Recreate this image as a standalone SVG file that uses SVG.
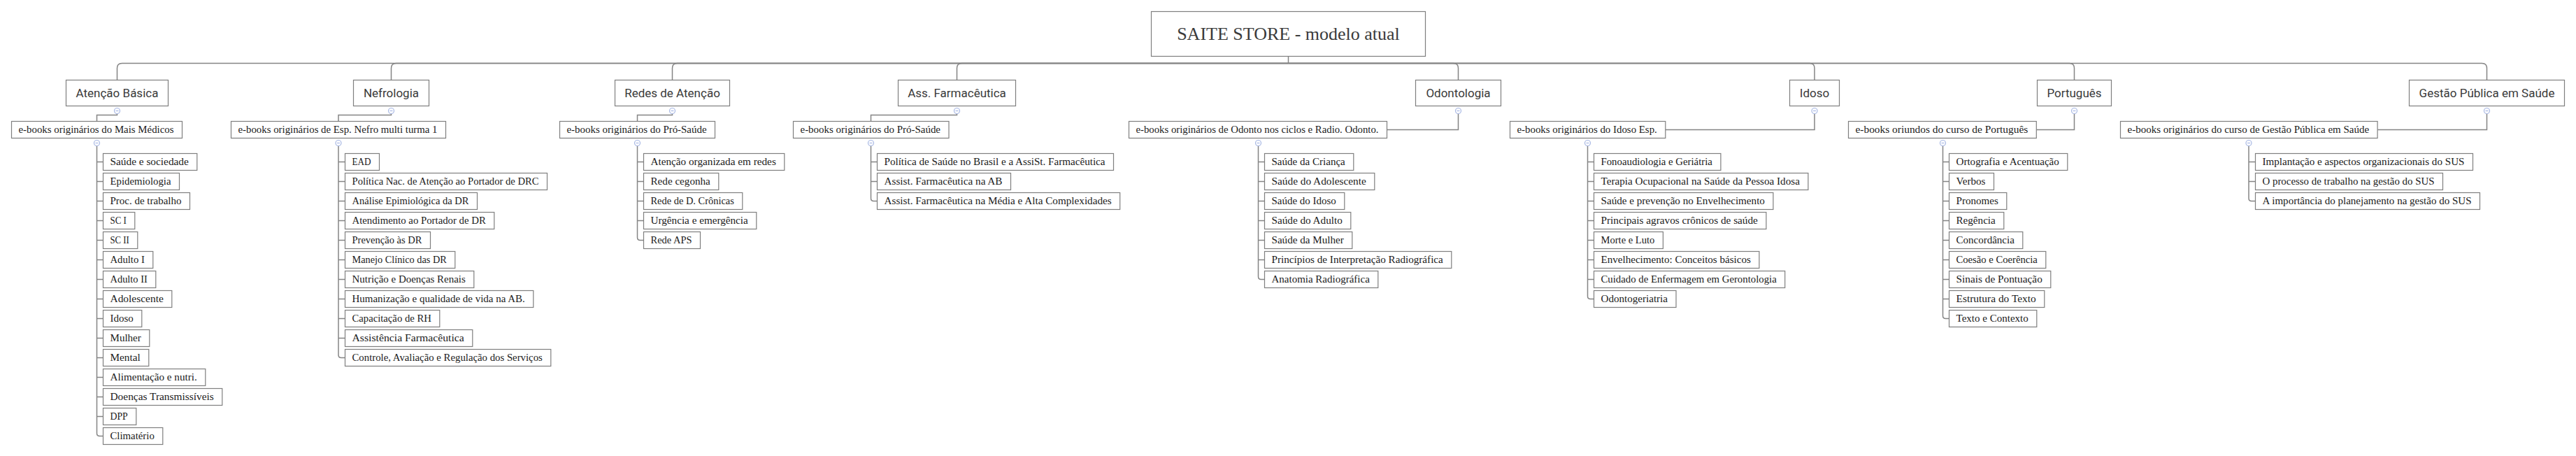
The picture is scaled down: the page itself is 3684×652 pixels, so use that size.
<svg xmlns="http://www.w3.org/2000/svg" width="3684" height="652" viewBox="0 0 3684 652">
<style>
rect{fill:#fff;stroke:#7f7f7f;stroke-width:1.2}
.t0{font-family:"Liberation Serif",serif;font-size:26px;fill:#3a3a3a;text-anchor:middle}
.t1{font-family:Roboto,"Liberation Sans",sans-serif;font-size:17px;fill:#3a3a3a;text-anchor:middle}
.t2{font-family:"Liberation Serif",serif;font-size:15px;fill:#1a1a1a}
#connectors path{fill:none;stroke:#858585;stroke-width:1.5}
.tog circle{fill:#fff;stroke:#a8b8e4;stroke-width:1.2}
.tog path{stroke:#a8b8e4;stroke-width:1.2}
</style>
<rect x="0" y="0" width="3684" height="652" style="fill:#fff;stroke:none"/>
<g id="connectors">
<path d="M1842.5 80.5 V90.5"/>
<path d="M1842.5 90.5 H174.5 Q167.5 90.5 167.5 97.5 V114.5"/>
<path d="M1842.5 90.5 H566.5 Q559.5 90.5 559.5 97.5 V114.5"/>
<path d="M1842.5 90.5 H968.5 Q961.5 90.5 961.5 97.5 V114.5"/>
<path d="M1842.5 90.5 H1375.5 Q1368.5 90.5 1368.5 97.5 V114.5"/>
<path d="M1842.5 90.5 H2078.5 Q2085.5 90.5 2085.5 97.5 V114.5"/>
<path d="M1842.5 90.5 H2588 Q2595 90.5 2595 97.5 V114.5"/>
<path d="M1842.5 90.5 H2959.5 Q2966.5 90.5 2966.5 97.5 V114.5"/>
<path d="M1842.5 90.5 H3549.5 Q3556.5 90.5 3556.5 97.5 V114.5"/>
<path d="M167.5 162.5 V164.5 H138.5 V173.5"/>
<path d="M559.5 162.5 V164.5 H484 V173.5"/>
<path d="M961.5 162.5 V164.5 H911.5 V173.5"/>
<path d="M1368.5 162.5 V164.5 H1245.5 V173.5"/>
<path d="M2085.5 162.5 V185.5 H1983.5"/>
<path d="M2595 162.5 V185.5 H2381.8"/>
<path d="M2966.5 162.5 V185.5 H2912.3"/>
<path d="M3556.5 162.5 V185.5 H3400.1"/>
<path d="M138.5 208.5 V619.5 Q138.5 623.5 142.5 623.5 H147.5 M138.5 231.5 H147.5 M138.5 259.5 H147.5 M138.5 287.5 H147.5 M138.5 315.5 H147.5 M138.5 343.5 H147.5 M138.5 371.5 H147.5 M138.5 399.5 H147.5 M138.5 427.5 H147.5 M138.5 455.5 H147.5 M138.5 483.5 H147.5 M138.5 511.5 H147.5 M138.5 539.5 H147.5 M138.5 567.5 H147.5 M138.5 595.5 H147.5"/>
<path d="M484 208.5 V507.5 Q484 511.5 488 511.5 H493.5 M484 231.5 H493.5 M484 259.5 H493.5 M484 287.5 H493.5 M484 315.5 H493.5 M484 343.5 H493.5 M484 371.5 H493.5 M484 399.5 H493.5 M484 427.5 H493.5 M484 455.5 H493.5 M484 483.5 H493.5"/>
<path d="M911.5 208.5 V339.5 Q911.5 343.5 915.5 343.5 H920.5 M911.5 231.5 H920.5 M911.5 259.5 H920.5 M911.5 287.5 H920.5 M911.5 315.5 H920.5"/>
<path d="M1245.5 208.5 V283.5 Q1245.5 287.5 1249.5 287.5 H1254.5 M1245.5 231.5 H1254.5 M1245.5 259.5 H1254.5"/>
<path d="M1799.5 208.5 V395.5 Q1799.5 399.5 1803.5 399.5 H1808.5 M1799.5 231.5 H1808.5 M1799.5 259.5 H1808.5 M1799.5 287.5 H1808.5 M1799.5 315.5 H1808.5 M1799.5 343.5 H1808.5 M1799.5 371.5 H1808.5"/>
<path d="M2270.5 208.5 V423.5 Q2270.5 427.5 2274.5 427.5 H2279.5 M2270.5 231.5 H2279.5 M2270.5 259.5 H2279.5 M2270.5 287.5 H2279.5 M2270.5 315.5 H2279.5 M2270.5 343.5 H2279.5 M2270.5 371.5 H2279.5 M2270.5 399.5 H2279.5"/>
<path d="M2778.5 208.5 V451.5 Q2778.5 455.5 2782.5 455.5 H2787.5 M2778.5 231.5 H2787.5 M2778.5 259.5 H2787.5 M2778.5 287.5 H2787.5 M2778.5 315.5 H2787.5 M2778.5 343.5 H2787.5 M2778.5 371.5 H2787.5 M2778.5 399.5 H2787.5 M2778.5 427.5 H2787.5"/>
<path d="M3216 208.5 V283.5 Q3216 287.5 3220 287.5 H3225.5 M3216 231.5 H3225.5 M3216 259.5 H3225.5"/>
</g>
<g id="toggles" class="tog">
<circle cx="167.5" cy="158.5" r="4"/><path d="M165.5 158.5 H169.5"/>
<circle cx="559.5" cy="158.5" r="4"/><path d="M557.5 158.5 H561.5"/>
<circle cx="961.5" cy="158.5" r="4"/><path d="M959.5 158.5 H963.5"/>
<circle cx="1368.5" cy="158.5" r="4"/><path d="M1366.5 158.5 H1370.5"/>
<circle cx="2085.5" cy="158.5" r="4"/><path d="M2083.5 158.5 H2087.5"/>
<circle cx="2595" cy="158.5" r="4"/><path d="M2593 158.5 H2597"/>
<circle cx="2966.5" cy="158.5" r="4"/><path d="M2964.5 158.5 H2968.5"/>
<circle cx="3556.5" cy="158.5" r="4"/><path d="M3554.5 158.5 H3558.5"/>
<circle cx="138.5" cy="204.5" r="4"/><path d="M136.5 204.5 H140.5"/>
<circle cx="484" cy="204.5" r="4"/><path d="M482 204.5 H486"/>
<circle cx="911.5" cy="204.5" r="4"/><path d="M909.5 204.5 H913.5"/>
<circle cx="1245.5" cy="204.5" r="4"/><path d="M1243.5 204.5 H1247.5"/>
<circle cx="1799.5" cy="204.5" r="4"/><path d="M1797.5 204.5 H1801.5"/>
<circle cx="2270.5" cy="204.5" r="4"/><path d="M2268.5 204.5 H2272.5"/>
<circle cx="2778.5" cy="204.5" r="4"/><path d="M2776.5 204.5 H2780.5"/>
<circle cx="3216" cy="204.5" r="4"/><path d="M3214 204.5 H3218"/>
</g>
<g id="root"><rect x="1646.5" y="16.5" width="392" height="64"/><text class="t0" x="1842.5" y="57">SAITE STORE - modelo atual</text></g>
<g id="n-atencao-basica"><rect x="94.5" y="114.5" width="146" height="37"/><text class="t1" x="167.5" y="138.5">Atenção Básica</text></g>
<g id="n-nefrologia"><rect x="505.5" y="114.5" width="108" height="37"/><text class="t1" x="559.5" y="138.5">Nefrologia</text></g>
<g id="n-redes"><rect x="879.5" y="114.5" width="164" height="37"/><text class="t1" x="961.5" y="138.5">Redes de Atenção</text></g>
<g id="n-ass-farm"><rect x="1284.5" y="114.5" width="168" height="37"/><text class="t1" x="1368.5" y="138.5">Ass. Farmacêutica</text></g>
<g id="n-odontologia"><rect x="2024.5" y="114.5" width="122" height="37"/><text class="t1" x="2085.5" y="138.5">Odontologia</text></g>
<g id="n-idoso"><rect x="2559.5" y="114.5" width="71" height="37"/><text class="t1" x="2595" y="138.5">Idoso</text></g>
<g id="n-portugues"><rect x="2913.5" y="114.5" width="106" height="37"/><text class="t1" x="2966.5" y="138.5">Português</text></g>
<g id="n-gestao"><rect x="3445.5" y="114.5" width="222" height="37"/><text class="t1" x="3556.5" y="138.5">Gestão Pública em Saúde</text></g>
<g id="e-ab"><rect x="16.5" y="173.5" width="244" height="24"/><text class="t2" x="26.5" y="190" textLength="222" lengthAdjust="spacingAndGlyphs">e-books originários do Mais Médicos</text></g>
<g id="e-nefro"><rect x="330.5" y="173.5" width="307" height="24"/><text class="t2" x="340.5" y="190" textLength="285" lengthAdjust="spacingAndGlyphs">e-books originários de Esp. Nefro multi turma 1</text></g>
<g id="e-redes"><rect x="800.5" y="173.5" width="222" height="24"/><text class="t2" x="810.5" y="190" textLength="200" lengthAdjust="spacingAndGlyphs">e-books originários do Pró-Saúde</text></g>
<g id="e-ass"><rect x="1134.5" y="173.5" width="222.5" height="24"/><text class="t2" x="1144.5" y="190" textLength="200.5" lengthAdjust="spacingAndGlyphs">e-books originários do Pró-Saúde</text></g>
<g id="e-odonto"><rect x="1614.5" y="173.5" width="369" height="24"/><text class="t2" x="1624.5" y="190" textLength="347" lengthAdjust="spacingAndGlyphs">e-books originários de Odonto nos ciclos e Radio. Odonto.</text></g>
<g id="e-idoso"><rect x="2159.5" y="173.5" width="222.3" height="24"/><text class="t2" x="2169.5" y="190" textLength="200.3" lengthAdjust="spacingAndGlyphs">e-books originários do Idoso Esp.</text></g>
<g id="e-port"><rect x="2643.5" y="173.5" width="268.8" height="24"/><text class="t2" x="2653.5" y="190" textLength="246.8" lengthAdjust="spacingAndGlyphs">e-books oriundos do curso de Português</text></g>
<g id="e-gestao"><rect x="3032.5" y="173.5" width="367.6" height="24"/><text class="t2" x="3042.5" y="190" textLength="345.6" lengthAdjust="spacingAndGlyphs">e-books originários do curso de Gestão Pública em Saúde</text></g>
<g id="ab-1"><rect x="147.5" y="219.5" width="134.3" height="24"/><text class="t2" x="157.5" y="236" textLength="112.3" lengthAdjust="spacingAndGlyphs">Saúde e sociedade</text></g>
<g id="ab-2"><rect x="147.5" y="247.5" width="109" height="24"/><text class="t2" x="157.5" y="264" textLength="87" lengthAdjust="spacingAndGlyphs">Epidemiologia</text></g>
<g id="ab-3"><rect x="147.5" y="275.5" width="124" height="24"/><text class="t2" x="157.5" y="292" textLength="102" lengthAdjust="spacingAndGlyphs">Proc. de trabalho</text></g>
<g id="ab-4"><rect x="147.5" y="303.5" width="45.3" height="24"/><text class="t2" x="157.5" y="320" textLength="23.3" lengthAdjust="spacingAndGlyphs">SC I</text></g>
<g id="ab-5"><rect x="147.5" y="331.5" width="49.3" height="24"/><text class="t2" x="157.5" y="348" textLength="27.3" lengthAdjust="spacingAndGlyphs">SC II</text></g>
<g id="ab-6"><rect x="147.5" y="359.5" width="71.3" height="24"/><text class="t2" x="157.5" y="376" textLength="49.3" lengthAdjust="spacingAndGlyphs">Adulto I</text></g>
<g id="ab-7"><rect x="147.5" y="387.5" width="75.3" height="24"/><text class="t2" x="157.5" y="404" textLength="53.3" lengthAdjust="spacingAndGlyphs">Adulto II</text></g>
<g id="ab-8"><rect x="147.5" y="415.5" width="98.3" height="24"/><text class="t2" x="157.5" y="432" textLength="76.3" lengthAdjust="spacingAndGlyphs">Adolescente</text></g>
<g id="ab-9"><rect x="147.5" y="443.5" width="55.3" height="24"/><text class="t2" x="157.5" y="460" textLength="33.3" lengthAdjust="spacingAndGlyphs">Idoso</text></g>
<g id="ab-10"><rect x="147.5" y="471.5" width="66.3" height="24"/><text class="t2" x="157.5" y="488" textLength="44.3" lengthAdjust="spacingAndGlyphs">Mulher</text></g>
<g id="ab-11"><rect x="147.5" y="499.5" width="65.3" height="24"/><text class="t2" x="157.5" y="516" textLength="43.3" lengthAdjust="spacingAndGlyphs">Mental</text></g>
<g id="ab-12"><rect x="147.5" y="527.5" width="146.3" height="24"/><text class="t2" x="157.5" y="544" textLength="124.3" lengthAdjust="spacingAndGlyphs">Alimentação e nutri.</text></g>
<g id="ab-13"><rect x="147.5" y="555.5" width="170.3" height="24"/><text class="t2" x="157.5" y="572" textLength="148.3" lengthAdjust="spacingAndGlyphs">Doenças Transmissíveis</text></g>
<g id="ab-14"><rect x="147.5" y="583.5" width="47.3" height="24"/><text class="t2" x="157.5" y="600" textLength="25.3" lengthAdjust="spacingAndGlyphs">DPP</text></g>
<g id="ab-15"><rect x="147.5" y="611.5" width="85.3" height="24"/><text class="t2" x="157.5" y="628" textLength="63.3" lengthAdjust="spacingAndGlyphs">Climatério</text></g>
<g id="nf-1"><rect x="493.5" y="219.5" width="49" height="24"/><text class="t2" x="503.5" y="236" textLength="27" lengthAdjust="spacingAndGlyphs">EAD</text></g>
<g id="nf-2"><rect x="493.5" y="247.5" width="289" height="24"/><text class="t2" x="503.5" y="264" textLength="267" lengthAdjust="spacingAndGlyphs">Política Nac. de Atenção ao Portador de DRC</text></g>
<g id="nf-3"><rect x="493.5" y="275.5" width="189" height="24"/><text class="t2" x="503.5" y="292" textLength="167" lengthAdjust="spacingAndGlyphs">Análise Epimiológica da DR</text></g>
<g id="nf-4"><rect x="493.5" y="303.5" width="213.3" height="24"/><text class="t2" x="503.5" y="320" textLength="191.3" lengthAdjust="spacingAndGlyphs">Atendimento ao Portador de DR</text></g>
<g id="nf-5"><rect x="493.5" y="331.5" width="122" height="24"/><text class="t2" x="503.5" y="348" textLength="100" lengthAdjust="spacingAndGlyphs">Prevenção às DR</text></g>
<g id="nf-6"><rect x="493.5" y="359.5" width="157.3" height="24"/><text class="t2" x="503.5" y="376" textLength="135.3" lengthAdjust="spacingAndGlyphs">Manejo Clínico das DR</text></g>
<g id="nf-7"><rect x="493.5" y="387.5" width="184.3" height="24"/><text class="t2" x="503.5" y="404" textLength="162.3" lengthAdjust="spacingAndGlyphs">Nutrição e Doenças Renais</text></g>
<g id="nf-8"><rect x="493.5" y="415.5" width="269.3" height="24"/><text class="t2" x="503.5" y="432" textLength="247.3" lengthAdjust="spacingAndGlyphs">Humanização e qualidade de vida na AB.</text></g>
<g id="nf-9"><rect x="493.5" y="443.5" width="135.3" height="24"/><text class="t2" x="503.5" y="460" textLength="113.3" lengthAdjust="spacingAndGlyphs">Capacitação de RH</text></g>
<g id="nf-10"><rect x="493.5" y="471.5" width="182.3" height="24"/><text class="t2" x="503.5" y="488" textLength="160.3" lengthAdjust="spacingAndGlyphs">Assistência Farmacêutica</text></g>
<g id="nf-11"><rect x="493.5" y="499.5" width="294.3" height="24"/><text class="t2" x="503.5" y="516" textLength="272.3" lengthAdjust="spacingAndGlyphs">Controle, Avaliação e Regulação dos Serviços</text></g>
<g id="rd-1"><rect x="920.5" y="219.5" width="201.3" height="24"/><text class="t2" x="930.5" y="236" textLength="179.3" lengthAdjust="spacingAndGlyphs">Atenção organizada em redes</text></g>
<g id="rd-2"><rect x="920.5" y="247.5" width="107.3" height="24"/><text class="t2" x="930.5" y="264" textLength="85.3" lengthAdjust="spacingAndGlyphs">Rede cegonha</text></g>
<g id="rd-3"><rect x="920.5" y="275.5" width="141.3" height="24"/><text class="t2" x="930.5" y="292" textLength="119.3" lengthAdjust="spacingAndGlyphs">Rede de D. Crônicas</text></g>
<g id="rd-4"><rect x="920.5" y="303.5" width="161.3" height="24"/><text class="t2" x="930.5" y="320" textLength="139.3" lengthAdjust="spacingAndGlyphs">Urgência e emergência</text></g>
<g id="rd-5"><rect x="920.5" y="331.5" width="81" height="24"/><text class="t2" x="930.5" y="348" textLength="59" lengthAdjust="spacingAndGlyphs">Rede APS</text></g>
<g id="af-1"><rect x="1254.5" y="219.5" width="338" height="24"/><text class="t2" x="1264.5" y="236" textLength="316" lengthAdjust="spacingAndGlyphs">Política de Saúde no Brasil e a AssiSt. Farmacêutica</text></g>
<g id="af-2"><rect x="1254.5" y="247.5" width="191" height="24"/><text class="t2" x="1264.5" y="264" textLength="169" lengthAdjust="spacingAndGlyphs">Assist. Farmacêutica na AB</text></g>
<g id="af-3"><rect x="1254.5" y="275.5" width="347.2" height="24"/><text class="t2" x="1264.5" y="292" textLength="325.2" lengthAdjust="spacingAndGlyphs">Assist. Farmacêutica na Média e Alta Complexidades</text></g>
<g id="od-1"><rect x="1808.5" y="219.5" width="127.3" height="24"/><text class="t2" x="1818.5" y="236" textLength="105.3" lengthAdjust="spacingAndGlyphs">Saúde da Criança</text></g>
<g id="od-2"><rect x="1808.5" y="247.5" width="157.3" height="24"/><text class="t2" x="1818.5" y="264" textLength="135.3" lengthAdjust="spacingAndGlyphs">Saúde do Adolescente</text></g>
<g id="od-3"><rect x="1808.5" y="275.5" width="114.3" height="24"/><text class="t2" x="1818.5" y="292" textLength="92.3" lengthAdjust="spacingAndGlyphs">Saúde do Idoso</text></g>
<g id="od-4"><rect x="1808.5" y="303.5" width="123.3" height="24"/><text class="t2" x="1818.5" y="320" textLength="101.3" lengthAdjust="spacingAndGlyphs">Saúde do Adulto</text></g>
<g id="od-5"><rect x="1808.5" y="331.5" width="125.3" height="24"/><text class="t2" x="1818.5" y="348" textLength="103.3" lengthAdjust="spacingAndGlyphs">Saúde da Mulher</text></g>
<g id="od-6"><rect x="1808.5" y="359.5" width="267.3" height="24"/><text class="t2" x="1818.5" y="376" textLength="245.3" lengthAdjust="spacingAndGlyphs">Princípios de Interpretação Radiográfica</text></g>
<g id="od-7"><rect x="1808.5" y="387.5" width="162.3" height="24"/><text class="t2" x="1818.5" y="404" textLength="140.3" lengthAdjust="spacingAndGlyphs">Anatomia Radiográfica</text></g>
<g id="id-1"><rect x="2279.5" y="219.5" width="181.4" height="24"/><text class="t2" x="2289.5" y="236" textLength="159.4" lengthAdjust="spacingAndGlyphs">Fonoaudiologia e Geriátria</text></g>
<g id="id-2"><rect x="2279.5" y="247.5" width="306.4" height="24"/><text class="t2" x="2289.5" y="264" textLength="284.4" lengthAdjust="spacingAndGlyphs">Terapia Ocupacional na Saúde da Pessoa Idosa</text></g>
<g id="id-3"><rect x="2279.5" y="275.5" width="256.4" height="24"/><text class="t2" x="2289.5" y="292" textLength="234.4" lengthAdjust="spacingAndGlyphs">Saúde e prevenção no Envelhecimento</text></g>
<g id="id-4"><rect x="2279.5" y="303.5" width="246.4" height="24"/><text class="t2" x="2289.5" y="320" textLength="224.4" lengthAdjust="spacingAndGlyphs">Principais agravos crônicos de saúde</text></g>
<g id="id-5"><rect x="2279.5" y="331.5" width="98.9" height="24"/><text class="t2" x="2289.5" y="348" textLength="76.9" lengthAdjust="spacingAndGlyphs">Morte e Luto</text></g>
<g id="id-6"><rect x="2279.5" y="359.5" width="236.4" height="24"/><text class="t2" x="2289.5" y="376" textLength="214.4" lengthAdjust="spacingAndGlyphs">Envelhecimento: Conceitos básicos</text></g>
<g id="id-7"><rect x="2279.5" y="387.5" width="273.2" height="24"/><text class="t2" x="2289.5" y="404" textLength="251.2" lengthAdjust="spacingAndGlyphs">Cuidado de Enfermagem em Gerontologia</text></g>
<g id="id-8"><rect x="2279.5" y="415.5" width="117.5" height="24"/><text class="t2" x="2289.5" y="432" textLength="95.5" lengthAdjust="spacingAndGlyphs">Odontogeriatria</text></g>
<g id="pt-1"><rect x="2787.5" y="219.5" width="169.3" height="24"/><text class="t2" x="2797.5" y="236" textLength="147.3" lengthAdjust="spacingAndGlyphs">Ortografia e Acentuação</text></g>
<g id="pt-2"><rect x="2787.5" y="247.5" width="64" height="24"/><text class="t2" x="2797.5" y="264" textLength="42" lengthAdjust="spacingAndGlyphs">Verbos</text></g>
<g id="pt-3"><rect x="2787.5" y="275.5" width="82.3" height="24"/><text class="t2" x="2797.5" y="292" textLength="60.3" lengthAdjust="spacingAndGlyphs">Pronomes</text></g>
<g id="pt-4"><rect x="2787.5" y="303.5" width="78.3" height="24"/><text class="t2" x="2797.5" y="320" textLength="56.3" lengthAdjust="spacingAndGlyphs">Regência</text></g>
<g id="pt-5"><rect x="2787.5" y="331.5" width="105.3" height="24"/><text class="t2" x="2797.5" y="348" textLength="83.3" lengthAdjust="spacingAndGlyphs">Concordância</text></g>
<g id="pt-6"><rect x="2787.5" y="359.5" width="138.3" height="24"/><text class="t2" x="2797.5" y="376" textLength="116.3" lengthAdjust="spacingAndGlyphs">Coesão e Coerência</text></g>
<g id="pt-7"><rect x="2787.5" y="387.5" width="145.3" height="24"/><text class="t2" x="2797.5" y="404" textLength="123.3" lengthAdjust="spacingAndGlyphs">Sinais de Pontuação</text></g>
<g id="pt-8"><rect x="2787.5" y="415.5" width="136.3" height="24"/><text class="t2" x="2797.5" y="432" textLength="114.3" lengthAdjust="spacingAndGlyphs">Estrutura do Texto</text></g>
<g id="pt-9"><rect x="2787.5" y="443.5" width="125.3" height="24"/><text class="t2" x="2797.5" y="460" textLength="103.3" lengthAdjust="spacingAndGlyphs">Texto e Contexto</text></g>
<g id="gs-1"><rect x="3225.5" y="219.5" width="311" height="24"/><text class="t2" x="3235.5" y="236" textLength="289" lengthAdjust="spacingAndGlyphs">Implantação e aspectos organizacionais do SUS</text></g>
<g id="gs-2"><rect x="3225.5" y="247.5" width="268" height="24"/><text class="t2" x="3235.5" y="264" textLength="246" lengthAdjust="spacingAndGlyphs">O processo de trabalho na gestão do SUS</text></g>
<g id="gs-3"><rect x="3225.5" y="275.5" width="321" height="24"/><text class="t2" x="3235.5" y="292" textLength="299" lengthAdjust="spacingAndGlyphs">A importância do planejamento na gestão do SUS</text></g>
</svg>
